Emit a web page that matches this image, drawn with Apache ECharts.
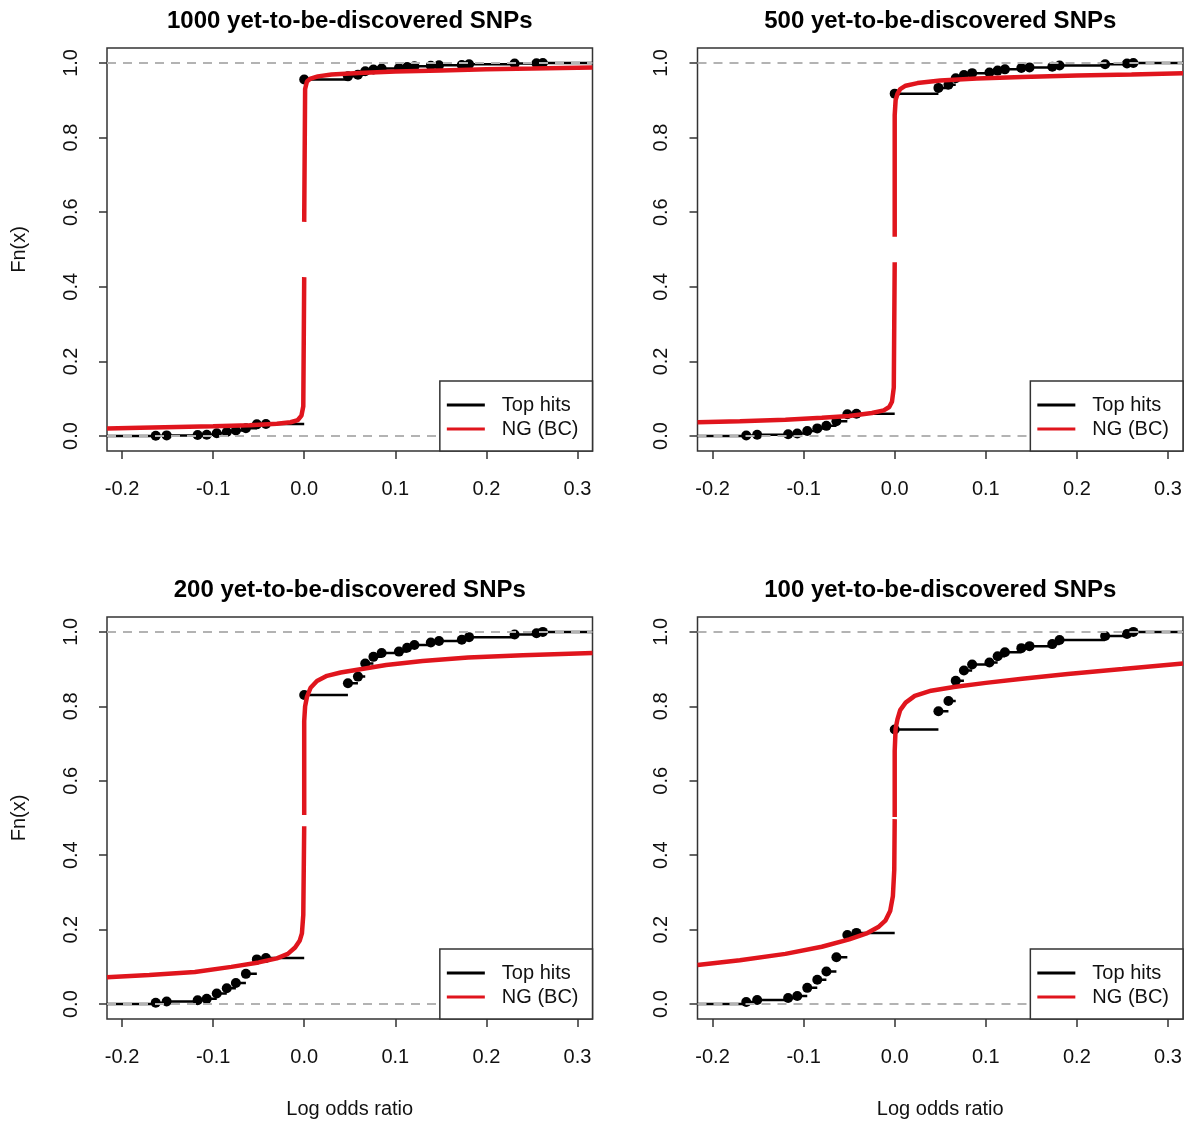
<!DOCTYPE html>
<html>
<head>
<meta charset="utf-8">
<script src="https://cdn.jsdelivr.net/npm/echarts@6/dist/echarts.min.js"></script>
<style>
html,body{margin:0;padding:0;background:#fff;}
#chart{width:1189px;height:1124px;}
</style>
</head>
<body>
<div id="chart"></div>
<script>
// ---------- data ----------
const titles = [
  '1000 yet-to-be-discovered SNPs',
  '500 yet-to-be-discovered SNPs',
  '200 yet-to-be-discovered SNPs',
  '100 yet-to-be-discovered SNPs'
];
const xTicks = [-0.2, -0.1, 0.0, 0.1, 0.2, 0.3];
const yTicks = [0.0, 0.2, 0.4, 0.6, 0.8, 1.0];
const legendNames = ['Top hits', 'NG (BC)'];
const xLabel = 'Log odds ratio';
const yLabel = 'Fn(x)';

// ECDF points of top hits (x shared by all panels)
const hitX = [-0.163, -0.151, -0.117, -0.107, -0.096, -0.085, -0.075, -0.064, -0.052, -0.042,
  0, 0.048, 0.059, 0.067, 0.076, 0.085, 0.104, 0.113, 0.121, 0.139, 0.148, 0.173, 0.181, 0.231, 0.255, 0.262];
const hitY1000 = [0.0009, 0.0018, 0.0028, 0.0037, 0.0074, 0.0111, 0.0148, 0.0212, 0.0314, 0.0323,
  0.9557, 0.9640, 0.9686, 0.9778, 0.9825, 0.9852, 0.9861, 0.9889, 0.9908, 0.9926, 0.9935, 0.9945, 0.9963, 0.9982, 0.9991, 1];
const hitY500 = [0.0017, 0.0034, 0.0051, 0.0069, 0.0137, 0.0206, 0.0274, 0.0395, 0.0583, 0.0600,
  0.9177, 0.9331, 0.9417, 0.9588, 0.9674, 0.9726, 0.9743, 0.9794, 0.9828, 0.9863, 0.9880, 0.9897, 0.9931, 0.9966, 0.9983, 1];
const hitY200 = [0.0035, 0.0071, 0.0106, 0.0141, 0.0283, 0.0424, 0.0565, 0.0813, 0.1201, 0.1237,
  0.8304, 0.8622, 0.8799, 0.9152, 0.9329, 0.9435, 0.9470, 0.9576, 0.9647, 0.9717, 0.9753, 0.9788, 0.9859, 0.9929, 0.9965, 1];
const hitY100 = [0.0055, 0.0109, 0.0164, 0.0219, 0.0437, 0.0656, 0.0874, 0.1257, 0.1858, 0.1913,
  0.7377, 0.7869, 0.8142, 0.8689, 0.8962, 0.9126, 0.9180, 0.9344, 0.9454, 0.9563, 0.9617, 0.9672, 0.9781, 0.9891, 0.9945, 1];

// NG (BC) fitted CDF curves (null = gap in the drawn curve)
const ngX1000 = [-0.2165, -0.18, -0.14, -0.10, -0.06, -0.03, -0.015, -0.007, -0.003, -0.001, 0, null,
  0, 0.001, 0.003, 0.007, 0.015, 0.03, 0.06, 0.10, 0.15, 0.20, 0.25, 0.3165];
const ngY1000 = [0.020, 0.022, 0.024, 0.026, 0.029, 0.033, 0.037, 0.043, 0.055, 0.08, 0.426, null,
  0.574, 0.93, 0.950, 0.958, 0.964, 0.969, 0.973, 0.977, 0.980, 0.983, 0.985, 0.988];

const ngX500 = [-0.2165, -0.17, -0.12, -0.08, -0.05, -0.025, -0.012, -0.006, -0.003, -0.001, 0, null,
  0, 0, 0.001, 0.003, 0.006, 0.012, 0.025, 0.05, 0.09, 0.14, 0.20, 0.26, 0.3165];
const ngY500 = [0.037, 0.040, 0.044, 0.049, 0.054, 0.062, 0.069, 0.078, 0.092, 0.13, 0.466, null,
  0.534, 0.86, 0.90, 0.917, 0.930, 0.939, 0.946, 0.953, 0.958, 0.962, 0.966, 0.969, 0.972];

const ngX200 = [-0.2165, -0.17, -0.12, -0.08, -0.05, -0.03, -0.018, -0.01, -0.005, -0.0025, -0.001, 0, null,
  0, 0, 0.001, 0.003, 0.007, 0.014, 0.025, 0.04, 0.06, 0.09, 0.13, 0.18, 0.24, 0.3165];
const ngY200 = [0.072, 0.078, 0.086, 0.100, 0.112, 0.123, 0.135, 0.152, 0.170, 0.19, 0.24, 0.478, null,
  0.508, 0.76, 0.80, 0.825, 0.85, 0.868, 0.882, 0.891, 0.899, 0.911, 0.922, 0.931, 0.937, 0.943];

const ngX100 = [-0.2165, -0.17, -0.12, -0.08, -0.05, -0.03, -0.018, -0.01, -0.005, -0.002, -0.0005, 0, null,
  0, 0, 0.001, 0.003, 0.006, 0.012, 0.022, 0.04, 0.065, 0.10, 0.14, 0.19, 0.25, 0.3165];
const ngY100 = [0.105, 0.118, 0.135, 0.154, 0.174, 0.191, 0.207, 0.225, 0.250, 0.29, 0.36, 0.497, null,
  0.503, 0.68, 0.74, 0.765, 0.79, 0.81, 0.828, 0.842, 0.852, 0.863, 0.874, 0.887, 0.90, 0.915];

// ---------- layout / style ----------
const X_MIN = -0.2165, X_MAX = 0.3165, Y_MIN = -0.04, Y_MAX = 1.04;
const W = 1189, H = 1124;
const RED = '#e0151d';
const FONT = '"Liberation Sans", Arial, Helvetica, sans-serif';
const TXT = '#111';
const grids = [
  { left: 107,   top: 48,  width: 485.5, height: 403 },
  { left: 697.5, top: 48,  width: 485.5, height: 403 },
  { left: 107,   top: 617, width: 485.5, height: 402 },
  { left: 697.5, top: 617, width: 485.5, height: 402 }
];
const panels = [
  { hitY: hitY1000, ngX: ngX1000, ngY: ngY1000 },
  { hitY: hitY500,  ngX: ngX500,  ngY: ngY500 },
  { hitY: hitY200,  ngX: ngX200,  ngY: ngY200 },
  { hitY: hitY100,  ngX: ngX100,  ngY: ngY100 }
];

const option = {
  animation: false,
  backgroundColor: '#fff',
  title: [], grid: [], xAxis: [], yAxis: [], legend: [], series: []
};

panels.forEach((p, i) => {
  const g = grids[i];
  const isBottom = i >= 2, isLeft = i % 2 === 0;
  option.grid.push({
    left: g.left, top: g.top, width: g.width, height: g.height,
    show: true, borderColor: '#333', borderWidth: 1.5, backgroundColor: 'transparent'
  });
  option.title.push({
    text: titles[i], left: g.left + g.width / 2, top: g.top - 39, textAlign: 'center', padding: 0,
    textStyle: { fontSize: 24, fontWeight: 'bold', color: '#000', fontFamily: FONT }
  });
  option.xAxis.push({
    gridIndex: i, type: 'value', min: X_MIN, max: X_MAX, position: 'bottom',
    axisLine: { show: false, onZero: false }, splitLine: { show: false },
    axisTick: { show: true, inside: false, customValues: xTicks, length: 8, lineStyle: { color: '#333', width: 1.5 } },
    axisLabel: { customValues: xTicks, formatter: v => v.toFixed(1), margin: 28,
      fontSize: 20, color: TXT, fontFamily: FONT },
    name: isBottom ? xLabel : '', nameLocation: 'middle', nameGap: 80,
    nameTextStyle: { fontSize: 20, color: TXT, fontFamily: FONT }
  });
  option.yAxis.push({
    gridIndex: i, type: 'value', min: Y_MIN, max: Y_MAX, position: 'left',
    axisLine: { show: false, onZero: false }, splitLine: { show: false },
    axisTick: { show: true, inside: false, customValues: yTicks, length: 8, lineStyle: { color: '#333', width: 1.5 } },
    axisLabel: { customValues: yTicks, formatter: v => v.toFixed(1), margin: 26, rotate: 90,
      fontSize: 20, color: TXT, fontFamily: FONT },
    name: isLeft ? yLabel : '', nameLocation: 'middle', nameGap: 78, nameRotate: 90,
    nameTextStyle: { fontSize: 20, color: TXT, fontFamily: FONT }
  });
  option.legend.push({
    orient: 'vertical', selectedMode: false,
    right: W - (g.left + g.width), bottom: H - (g.top + g.height),
    data: [
      { name: legendNames[0], itemStyle: { color: '#000' } },
      { name: legendNames[1], itemStyle: { color: RED } }
    ],
    icon: 'rect', itemWidth: 38, itemHeight: 3, itemGap: 4,
    padding: [14, 14, 12, 7],
    borderColor: '#333', borderWidth: 1.5, backgroundColor: '#fff',
    textStyle: { fontSize: 20, color: TXT, fontFamily: FONT, padding: [0, 0, 0, 12] },
    z: 10
  });

  // step segments (horizontal only, as in plot.ecdf)
  const seg = [[X_MIN, 0], [hitX[0], 0], [NaN, NaN]];
  for (let k = 0; k < hitX.length; k++) {
    const xEnd = k + 1 < hitX.length ? hitX[k + 1] : X_MAX;
    seg.push([hitX[k], p.hitY[k]], [xEnd, p.hitY[k]], [NaN, NaN]);
  }
  option.series.push({
    type: 'line', name: legendNames[0], xAxisIndex: i, yAxisIndex: i,
    data: seg, showSymbol: false, connectNulls: false, silent: true,
    lineStyle: { color: '#000', width: 2.5 }, itemStyle: { color: '#000' }, z: 2
  });
  option.series.push({
    type: 'scatter', name: legendNames[0], xAxisIndex: i, yAxisIndex: i,
    data: hitX.map((x, k) => [x, p.hitY[k]]), symbol: 'circle', symbolSize: 10,
    itemStyle: { color: '#000', opacity: 1 }, silent: true, z: 3
  });
  // reference dashed lines at 0 and 1
  option.series.push({
    type: 'line', name: 'ref', xAxisIndex: i, yAxisIndex: i,
    data: [[X_MIN, 0], [X_MAX, 0], [NaN, NaN], [X_MIN, 1], [X_MAX, 1]],
    showSymbol: false, connectNulls: false, silent: true,
    lineStyle: { color: '#b3b3b3', width: 2, type: [9, 7] }, z: 4
  });
  option.series.push({
    type: 'line', name: legendNames[1], xAxisIndex: i, yAxisIndex: i,
    data: p.ngX.map((x, k) => x === null ? [NaN, NaN] : [x, p.ngY[k]]),
    showSymbol: false, connectNulls: false, silent: true,
    lineStyle: { color: RED, width: 4.5 }, itemStyle: { color: RED }, z: 5
  });
});

const chart = echarts.init(document.getElementById('chart'), null, { renderer: 'canvas' });
chart.setOption(option);
</script>
</body>
</html>
